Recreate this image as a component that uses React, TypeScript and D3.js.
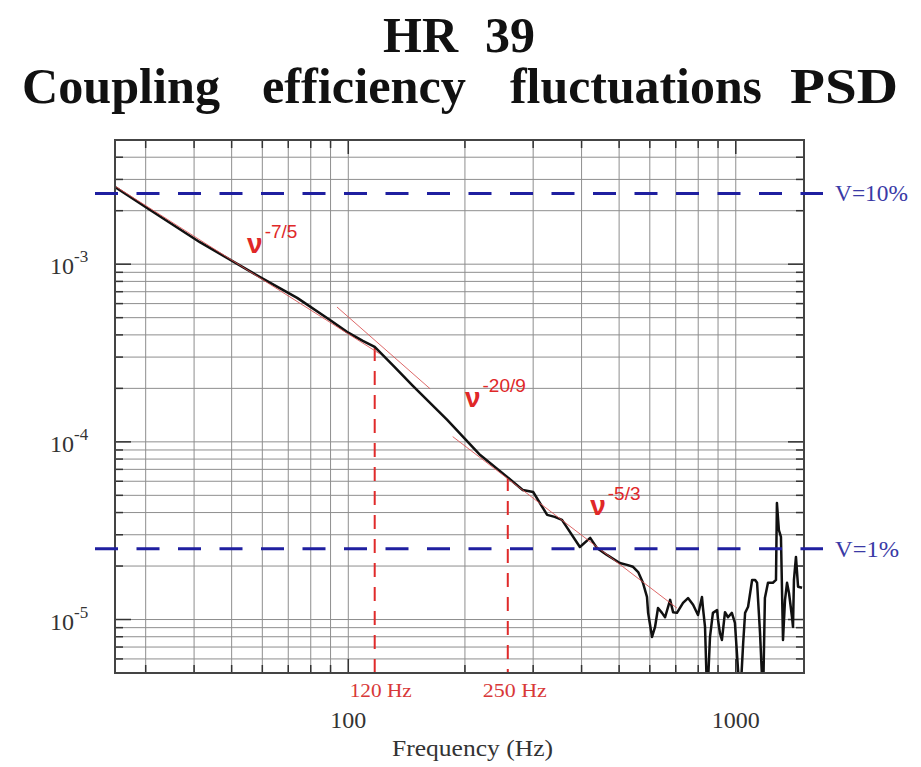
import React from 'react';
import * as d3 from 'd3';

// ---- Data ----
const freqHz = [25.0, 30.8, 41.4, 60.3, 73.8, 89.7, 99.2, 109, 117, 131, 147, 180, 219, 257, 282, 300, 326, 341, 356, 396, 421, 438, 465, 502, 524, 543, 560, 576, 590, 594, 608, 619, 630, 645, 657, 677, 689, 705, 731, 753, 776, 799, 818, 823, 833, 844, 858, 873, 895, 900, 910, 921, 938, 955, 977, 995, 1026, 1045, 1057, 1076, 1102, 1122, 1135, 1155, 1176, 1189, 1211, 1247, 1270, 1277, 1292, 1308, 1324, 1340, 1356, 1372, 1397, 1405, 1413, 1430, 1448, 1483];
const psdValues = [2.72e-3, 2.02e-3, 1.33e-3, 8.26e-4, 6.46e-4, 4.85e-4, 4.16e-4, 3.7e-4, 3.42e-4, 2.67e-4, 2.06e-4, 1.33e-4, 8.43e-5, 6.35e-5, 5.36e-5, 5.22e-5, 3.88e-5, 3.78e-5, 3.64e-5, 2.56e-5, 2.88e-5, 2.53e-5, 2.31e-5, 2.08e-5, 2.03e-5, 1.98e-5, 1.85e-5, 1.61e-5, 1.34e-5, 1.09e-5, 7.98e-6, 9.08e-6, 1.16e-5, 1.09e-5, 1.03e-5, 1.29e-5, 1.1e-5, 1.09e-5, 1.24e-5, 1.32e-5, 1.21e-5, 1.06e-5, 1.34e-5, 1.16e-5, 9.08e-6, 3.5e-6, 7.98e-6, 1.09e-5, 1.13e-5, 9.95e-6, 8.41e-6, 7.67e-6, 1.1e-5, 1.03e-5, 1.09e-5, 9.57e-6, 3.5e-6, 7.38e-6, 1.09e-5, 1.18e-5, 1.67e-5, 1.67e-5, 1.61e-5, 8.41e-6, 3.5e-6, 1.32e-5, 1.61e-5, 1.61e-5, 1.67e-5, 4.53e-5, 3.19e-5, 2.92e-5, 7.67e-6, 1.29e-5, 1.61e-5, 1.41e-5, 1.03e-5, 9.08e-6, 1.67e-5, 2.25e-5, 1.53e-5, 1.51e-5];

// power-law fit segments
const fitStartFreq = [25, 93.5, 186];
const fitStartPsd = [2.75e-3, 5.74e-4, 1.07e-4];
const fitEndFreq = [120.8, 162.6, 705];
const fitEndPsd = [3.12e-4, 1.99e-4, 1.16e-5];
const slopeExp = ['-7/5', '-20/9', '-5/3'];
const slopeFreq = [54.8, 200, 421];
const slopePsd = [1.16e-3, 1.57e-4, 3.88e-5];

// break frequencies
const markerFreq = [117, 258];
const markerTopPsd = [3.42e-4, 6.35e-5];
const markerLabels = ['120 Hz', '250 Hz'];

// visibility levels
const vLevels = [2.5e-3, 2.5e-5];
const vLabels = ['V=10%', 'V=1%'];

// axis labels
const xMajor = [100, 1000];
const xMajorLabels = ['100', '1000'];
const yMajor = [1e-3, 1e-4, 1e-5];
const yMajorExp = ['-3', '-4', '-5'];

const titleLine1 = ['HR', '39'];
const titleLine2 = ['Coupling', 'efficiency', 'fluctuations', 'PSD'];
const xTitle = 'Frequency (Hz)';

// ---- Layout ----
const W = 921, H = 767;
const M = { left: 115, right: 804, top: 140, bottom: 673 };
const SERIF = "'Liberation Serif', 'Times New Roman', serif";
const SANS = "'Liberation Sans', Arial, sans-serif";

export default function App() {
  const x = d3.scaleLog().domain([25, 1500]).range([M.left, M.right]);
  const y = d3.scaleLog().domain([5e-6, 5e-3]).range([M.bottom, M.top]);
  const xGrid = x.ticks();
  const yGrid = y.ticks();
  const line = d3.line<[number, number]>().x(d => x(d[0])).y(d => y(d[1]));
  const pts: [number, number][] = freqHz.map((f, i) => [f, psdValues[i]]);

  const isMajorX = (v: number) => xMajor.some(m => Math.abs(m - v) / m < 1e-6);
  const isMajorY = (v: number) => yMajor.some(m => Math.abs(m - v) / m < 1e-6);

  const title2X = [22, 262, 510, 790];
  const title2Len = [198, 204, 252, 108];
  const markerLen = [62, 64];
  const vLen = [73, 64];

  return (
    <svg width={W} height={H} style={{ position: 'absolute', left: 0, top: 0, background: '#fff' }}>
      <defs>
        <clipPath id="plotClip">
          <rect x={M.left} y={M.top} width={M.right - M.left} height={M.bottom - M.top} />
        </clipPath>
      </defs>
      <rect x={0} y={0} width={W} height={H} fill="#fff" />

      {/* Title */}
      <g fontFamily={SERIF} fontWeight="bold" fontSize={50} fill="#111">
        <text x={383} y={52}>{titleLine1[0]}</text>
        <text x={535} y={52} textAnchor="end">{titleLine1[1]}</text>
        {titleLine2.map((w, i) => (
          <text key={w} x={title2X[i]} y={103} textLength={title2Len[i]} lengthAdjust="spacingAndGlyphs">{w}</text>
        ))}
      </g>

      {/* Grid */}
      <g stroke="#8e8e8e" strokeWidth={1}>
        {xGrid.map(v => (
          <line key={'gx' + v} x1={x(v)} x2={x(v)} y1={M.top} y2={M.bottom} />
        ))}
        {yGrid.map(v => (
          <line key={'gy' + v} x1={M.left} x2={M.right} y1={y(v)} y2={y(v)} />
        ))}
      </g>

      {/* Frame ticks */}
      <g stroke="#333" strokeWidth={1.5}>
        {xGrid.map(v => {
          const L = isMajorX(v) ? 14 : 8;
          return (
            <g key={'tx' + v}>
              <line x1={x(v)} x2={x(v)} y1={M.bottom} y2={M.bottom - L} />
              <line x1={x(v)} x2={x(v)} y1={M.top} y2={M.top + L} />
            </g>
          );
        })}
        {yGrid.map(v => {
          const L = isMajorY(v) ? 16 : 8;
          return (
            <g key={'ty' + v}>
              <line x1={M.left} x2={M.left + L} y1={y(v)} y2={y(v)} />
              <line x1={M.right - L} x2={M.right} y1={y(v)} y2={y(v)} />
            </g>
          );
        })}
      </g>

      {/* Break-frequency markers */}
      <g stroke="#e02a2a" strokeWidth={2} strokeDasharray="14,10">
        {markerFreq.map((f, i) => (
          <line key={'m' + i} x1={x(f)} x2={x(f)} y1={y(markerTopPsd[i])} y2={M.bottom} />
        ))}
      </g>

      {/* Data curve */}
      <g clipPath="url(#plotClip)">
        <path d={line(pts) || ''} fill="none" stroke="#111" strokeWidth={2.5} strokeLinejoin="round" />
      </g>

      {/* Fit lines */}
      <g stroke="#d95050" strokeWidth={1} opacity={0.85}>
        {fitStartFreq.map((f, i) => (
          <line key={'fit' + i} x1={x(f)} y1={y(fitStartPsd[i])} x2={x(fitEndFreq[i])} y2={y(fitEndPsd[i])} />
        ))}
      </g>

      {/* Frame */}
      <rect x={M.left} y={M.top} width={M.right - M.left} height={M.bottom - M.top} fill="none" stroke="#444" strokeWidth={2} />

      {/* Visibility levels */}
      <g stroke="#1f1fa0" strokeWidth={3} strokeDasharray="23,18.5">
        {vLevels.map((v, i) => (
          <line key={'v' + i} x1={M.left - 20} x2={M.right + 19} y1={y(v)} y2={y(v)} />
        ))}
      </g>
      <g fontFamily={SERIF} fontSize={23} fill="#3a3aa6">
        {vLevels.map((v, i) => (
          <text key={'vl' + i} x={835} y={y(v) + 8} textLength={vLen[i]} lengthAdjust="spacingAndGlyphs">{vLabels[i]}</text>
        ))}
      </g>

      {/* Slope annotations */}
      <g fill="#e02828" fontFamily={SANS}>
        {slopeExp.map((e, i) => (
          <text key={'s' + i} x={x(slopeFreq[i])} y={y(slopePsd[i])}>
            <tspan fontSize={28} fontWeight="bold">ν</tspan>
            <tspan fontSize={19} dx={2} dy={-15}>{e}</tspan>
          </text>
        ))}
      </g>

      {/* Marker labels */}
      <g fontFamily={SERIF} fontSize={19} fill="#d83838">
        {markerFreq.map((f, i) => (
          <text key={'ml' + i} x={x(f) - 25} y={697} textLength={markerLen[i]} lengthAdjust="spacingAndGlyphs">{markerLabels[i]}</text>
        ))}
      </g>

      {/* X tick labels */}
      <g fontFamily={SERIF} fontSize={24} fill="#333" textAnchor="middle">
        {xMajor.map((v, i) => (
          <text key={'xl' + i} x={x(v)} y={728}>{xMajorLabels[i]}</text>
        ))}
      </g>
      <text x={392} y={756} fontFamily={SERIF} fontSize={24} fill="#333" textLength={161} lengthAdjust="spacingAndGlyphs">{xTitle}</text>

      {/* Y tick labels */}
      <g fontFamily={SERIF} fill="#333">
        {yMajor.map((v, i) => (
          <text key={'yl' + i} x={50} y={y(v) + 10} fontSize={24}>
            10<tspan fontSize={17} dy={-12}>{yMajorExp[i]}</tspan>
          </text>
        ))}
      </g>
    </svg>
  );
}
